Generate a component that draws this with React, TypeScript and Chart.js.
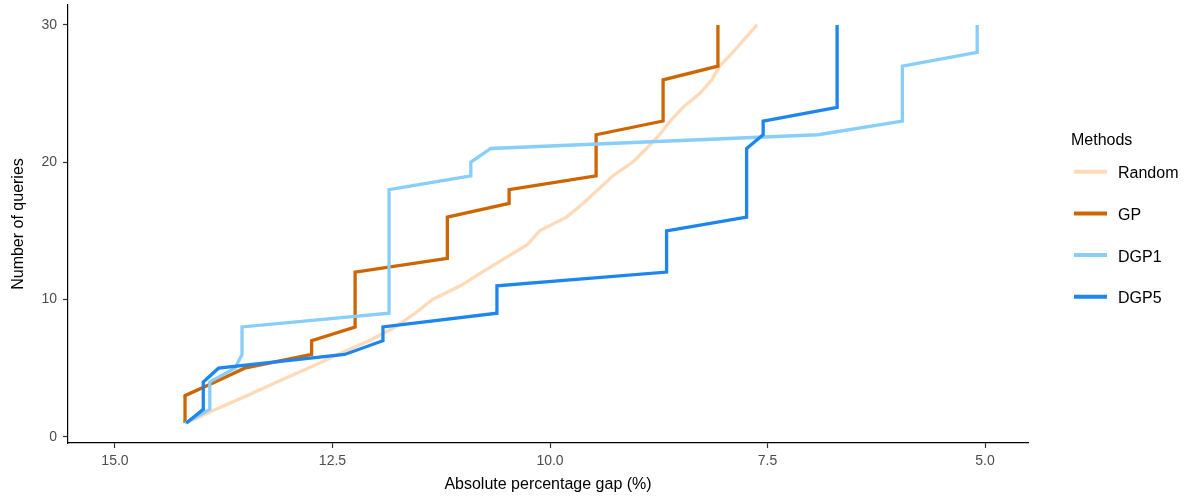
import React, { useEffect, useRef } from "react";
import { Chart, registerables } from "chart.js";

Chart.register(...registerables);

const queries = [1, 2, 3, 4, 5, 6, 7, 8, 9, 10, 11, 12, 13, 14, 15, 16, 17, 18, 19, 20, 21, 22, 23, 24, 25, 26, 27, 28, 29, 30];

const randomGap = [14.18, 13.84, 13.48, 13.14, 12.78, 12.44, 12.08, 11.78, 11.55, 11.35, 11.03, 10.78, 10.52, 10.26, 10.12, 9.81, 9.62, 9.45, 9.28, 9.05, 8.89, 8.74, 8.62, 8.47, 8.28, 8.14, 8.05, 7.9, 7.76, 7.62];
const gpGap = [14.195, 14.195, 14.195, 13.85, 13.51, 12.74, 12.74, 12.24, 12.24, 12.24, 12.24, 12.24, 11.18, 11.18, 11.18, 11.18, 10.47, 10.47, 9.47, 9.47, 9.47, 9.47, 8.7, 8.7, 8.7, 8.7, 8.07, 8.07, 8.07, 8.07];
const dgp1Gap = [14.195, 13.91, 13.91, 13.91, 13.62, 13.54, 13.54, 13.54, 11.85, 11.85, 11.85, 11.85, 11.85, 11.85, 11.85, 11.85, 11.85, 11.85, 10.91, 10.91, 10.68, 6.92, 5.95, 5.95, 5.95, 5.95, 5.95, 5.09, 5.09, 5.09];
const dgp5Gap = [14.18, 13.985, 13.985, 13.985, 13.81, 12.36, 11.92, 11.92, 10.61, 10.61, 10.61, 8.66, 8.66, 8.66, 8.66, 7.74, 7.74, 7.74, 7.74, 7.74, 7.74, 7.55, 7.55, 6.7, 6.7, 6.7, 6.7, 6.7, 6.7, 6.7];

const seriesNames = ["Random", "GP", "DGP1", "DGP5"];
const seriesColors = ["#FFDAB9", "#CD6600", "#87CEFA", "#1C86EE"];
const seriesGaps = [randomGap, gpGap, dgp1Gap, dgp5Gap];

const xTicks = [15, 12.5, 10, 7.5, 5];
const yTicks = [0, 10, 20, 30];

const xTitle = "Absolute percentage gap (%)";
const yTitle = "Number of queries";
const legendTitle = "Methods";

const FONT = "'Liberation Sans', Arial, sans-serif";

const overlayPlugin = {
  id: "overlay",
  afterDraw(chart: any) {
    const ctx = chart.ctx;
    const area = chart.chartArea;
    ctx.save();
    ctx.fillStyle = "#000000";
    ctx.font = `16px ${FONT}`;
    ctx.textAlign = "center";
    ctx.textBaseline = "alphabetic";
    ctx.fillText(xTitle, (area.left + area.right) / 2, 489);
    ctx.save();
    ctx.translate(23, (area.top + area.bottom) / 2);
    ctx.rotate(-Math.PI / 2);
    ctx.fillText(yTitle, 0, 0);
    ctx.restore();

    // legend
    ctx.textAlign = "left";
    ctx.fillText(legendTitle, 1071, 145);
    seriesNames.forEach((name, i) => {
      const cy = 171.7 + i * 41.7;
      ctx.strokeStyle = seriesColors[i];
      ctx.lineWidth = 4;
      ctx.beginPath();
      ctx.moveTo(1074, cy);
      ctx.lineTo(1107, cy);
      ctx.stroke();
      ctx.fillStyle = "#000000";
      ctx.fillText(name, 1118, cy + 6.5);
    });
    ctx.restore();
  },
};

export default function App() {
  const ref = useRef<HTMLCanvasElement | null>(null);

  useEffect(() => {
    if (!ref.current) return;
    const datasets = seriesNames.map((name, i) => ({
      label: name,
      data: queries.map((q, j) => ({ x: seriesGaps[i][j], y: q })),
      borderColor: seriesColors[i],
      backgroundColor: seriesColors[i],
      borderWidth: 3.3,
      pointRadius: 0,
      fill: false,
      tension: 0,
      order: 4 - i,
    }));
    const chart = new Chart(ref.current, {
      type: "line",
      data: { datasets },
      options: {
        animation: false,
        responsive: false,
        devicePixelRatio: 1,
        layout: { padding: { left: 0, top: 5, right: 160, bottom: 0 } },
        plugins: { legend: { display: false }, tooltip: { enabled: false } },
        scales: {
          x: {
            type: "linear",
            reverse: true,
            min: 4.506,
            max: 15.54,
            afterBuildTicks: (scale: any) => {
              scale.ticks = xTicks.map((v) => ({ value: v }));
            },
            afterFit: (scale: any) => {
              scale.height = 55;
              scale.paddingLeft = 0;
              scale.paddingRight = 0;
            },
            ticks: {
              callback: (v: any) => Number(v).toFixed(1),
              color: "#4D4D4D",
              font: { family: FONT, size: 14 },
              padding: 5,
              maxRotation: 0,
              autoSkip: false,
            },
            grid: {
              display: true,
              drawOnChartArea: false,
              drawTicks: true,
              tickLength: 5,
              tickColor: "#333333",
              tickWidth: 1.2,
            },
            border: { display: true, color: "#000000", width: 1.2 },
          },
          y: {
            type: "linear",
            min: -0.45,
            max: 31.45,
            afterBuildTicks: (scale: any) => {
              scale.ticks = yTicks.map((v) => ({ value: v }));
            },
            afterFit: (scale: any) => {
              scale.width = 68;
              scale.paddingTop = 0;
              scale.paddingBottom = 0;
            },
            ticks: {
              callback: (v: any) => String(v),
              color: "#4D4D4D",
              font: { family: FONT, size: 14 },
              padding: 6,
              autoSkip: false,
            },
            grid: {
              display: true,
              drawOnChartArea: false,
              drawTicks: true,
              tickLength: 5,
              tickColor: "#333333",
              tickWidth: 1.2,
            },
            border: { display: true, color: "#000000", width: 1.2 },
          },
        },
      },
      plugins: [overlayPlugin],
    });
    return () => chart.destroy();
  }, []);

  return (
    <div style={{ position: "absolute", left: 0, top: 0, width: 1188, height: 498, background: "#ffffff" }}>
      <canvas ref={ref} width={1188} height={498} style={{ display: "block" }} />
    </div>
  );
}
